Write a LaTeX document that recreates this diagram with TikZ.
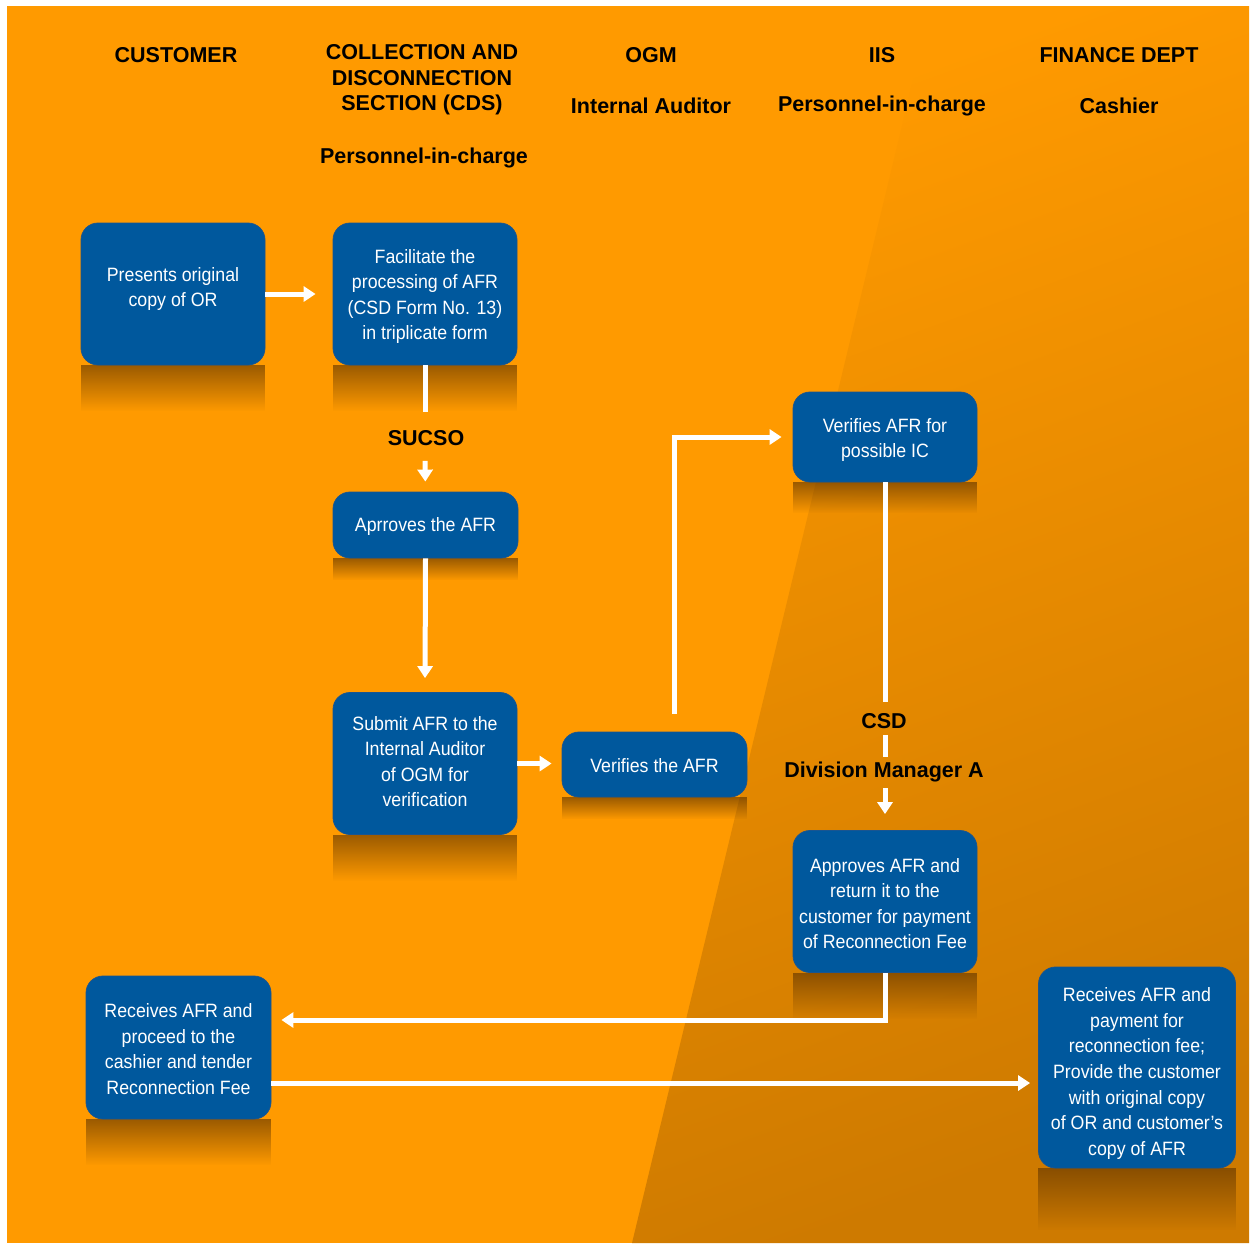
\documentclass[tikz,border=0pt]{standalone}
\usepackage{fontspec}
\setmainfont{Liberation Sans}
\newfontfamily\boxfont{Liberation Sans}[FakeStretch=0.92]
\usetikzlibrary{arrows.meta,fadings}
\definecolor{orangebg}{RGB}{255,154,0}
\definecolor{orangemd}{RGB}{249,150,0}
\definecolor{orangedk}{RGB}{206,122,0}
\definecolor{boxblue}{RGB}{0,88,157}
\definecolor{boxedge}{RGB}{25,85,145}
\definecolor{shadowc}{RGB}{95,52,0}
\tikzfading[name=fadedown, top color=transparent!0, bottom color=transparent!100]
\pgfdeclarelayer{bg}
\pgfsetlayers{bg,main}
\tikzset{
  stepbox/.style={rectangle, rounded corners=17pt, fill=boxblue, draw=boxedge,
    line width=0.8pt, inner sep=0pt},
  boxtext/.style={text=white, align=center, inner sep=0pt,
    font={\boxfont\fontsize{19.3}{25.6}\selectfont}},
  hdr/.style={inner sep=0pt, align=center, font={\bfseries\fontsize{21.5}{25.5}\selectfont}},
  flow/.style={draw=white, line width=5pt, -{Triangle[width=15pt,length=12pt]}},
  wline/.style={draw=white, line width=5pt},
  shadowfill/.style={fill=shadowc, opacity=0.62, path fading=fadedown}
}
\begin{document}
\begin{tikzpicture}[x=1pt,y=-1pt]
\useasboundingbox (0,0) rectangle (1253,1243);
% headers
\node[hdr] (hcust) at (176,55) {CUSTOMER};
\node[hdr] (hcds) at (422,80) {COLLECTION AND\\DISCONNECTION\\SECTION (CDS)};
\node[hdr] (hcdsp) at (424,158) {Personnel-in-charge};
\node[hdr] (hogm) at (651,55) {OGM};
\node[hdr] (hogmp) at (651,106) {Internal Auditor};
\node[hdr] (hiis) at (882,55) {IIS};
\node[hdr] (hiisp) at (882,106) {Personnel-in-charge};
\node[hdr] (hfin) at (1119,55) {FINANCE DEPT};
\node[hdr] (hfinp) at (1119,106) {Cashier};
% boxes
\node[stepbox, minimum width=184pt, minimum height=142pt] (b1) at (173,294) {};
\node[boxtext] (t1) at (173,289) {Presents original\\copy of OR};
\node[stepbox, minimum width=184pt, minimum height=142pt] (b2) at (425,294) {};
\node[boxtext] (t2) at (425,296.5) {Facilitate the\\processing of AFR\\(CSD Form No. 13)\\in triplicate form};
\node[stepbox, minimum width=185pt, minimum height=66pt] (b3) at (425.5,525) {};
\node[boxtext] (t3) at (425.5,526) {Aprroves the AFR};
\node[stepbox, minimum width=184pt, minimum height=142pt] (b4) at (425,763.5) {};
\node[boxtext] (t4) at (425,761.5) {Submit AFR to the\\Internal Auditor\\of OGM for\\verification};
\node[stepbox, minimum width=185pt, minimum height=65pt] (b5) at (654.5,764.5) {};
\node[boxtext] (t5) at (654.5,766) {Verifies the AFR};
\node[stepbox, minimum width=184pt, minimum height=90pt] (b6) at (885,437) {};
\node[boxtext] (t6) at (885,440) {Verifies AFR for\\possible IC};
\node[stepbox, minimum width=184pt, minimum height=142pt] (b7) at (885,901.5) {};
\node[boxtext] (t7) at (885,903.5) {Approves AFR and\\return it to the\\customer for payment\\of Reconnection Fee};
\node[stepbox, minimum width=185pt, minimum height=143pt] (b8) at (178.5,1047.5) {};
\node[boxtext] (t8) at (178.5,1049) {Receives AFR and\\proceed to the\\cashier and tender\\Reconnection Fee};
\node[stepbox, minimum width=197pt, minimum height=201pt] (b9) at (1137,1067.5) {};
\node[boxtext] (t9) at (1137,1073.5) {Receives AFR and\\payment for\\reconnection fee;\\Provide the customer\\with original copy\\of OR and customer’s\\copy of AFR};
% connector labels
\node[hdr] (lsucso) at (426,438) {SUCSO};
\node[hdr] (lcsd) at (884,721) {CSD};
\node[hdr] (ldm) at (884,772) {Division Manager A};
\coordinate (up5) at (674,714);
\coordinate (turn7) at (885,1020);
% background
\begin{pgfonlayer}{bg}
\fill[white] (0,0) rectangle (1253,1243);
\fill[orangebg] (7,6) rectangle (1249,1243);
\shade[top color=orangebg, middle color=orangemd, bottom color=orangedk, shading angle=20] (931,6) -- (1249,6) -- (1249,1243) -- (632,1243) -- cycle;
\fill[shadowfill] (b1.south west) rectangle ([yshift=-46pt]b1.south east);
\fill[shadowfill] (b2.south west) rectangle ([yshift=-46pt]b2.south east);
\fill[shadowfill] (b3.south west) rectangle ([yshift=-22pt]b3.south east);
\fill[shadowfill] (b4.south west) rectangle ([yshift=-46pt]b4.south east);
\fill[shadowfill] (b5.south west) rectangle ([yshift=-22pt]b5.south east);
\fill[shadowfill] (b6.south west) rectangle ([yshift=-31pt]b6.south east);
\fill[shadowfill] (b7.south west) rectangle ([yshift=-46pt]b7.south east);
\fill[shadowfill] (b8.south west) rectangle ([yshift=-46pt]b8.south east);
\fill[shadowfill] (b9.south west) rectangle ([yshift=-62pt]b9.south east);
\end{pgfonlayer}
% connectors
\draw[flow, shorten >=17pt] (b1.east) -- (b2.west);
\draw[wline] (b2.south) -- ([yshift=18pt]b2.south |- lsucso.north);
\draw[flow, shorten >=10pt] ([yshift=-15pt]b2.south |- lsucso.south) -- (b3.north);
\draw[flow, shorten >=14pt] (b3.south) -- (b4.north);
\draw[flow, shorten >=10pt] (b4.east) -- (b4.east -| b5.west);
\draw[flow, shorten >=11pt] (up5) |- (b6.west);
\draw[wline] (b6.south) -- ([yshift=11pt]b6.south |- lcsd.north);
\draw[wline] ([yshift=-6pt]b6.south |- lcsd.south) -- ([yshift=5pt]b6.south |- ldm.north);
\draw[flow, shorten >=16pt] ([yshift=-6pt]b6.south |- ldm.south) -- (b7.north);
\draw[flow, shorten >=10pt] (b7.south) -- (turn7) -- (turn7 -| b8.east);
\draw[flow, shorten >=8pt] ([yshift=-35.5pt]b8.east) -- ([yshift=-35.5pt]b8.east -| b9.west);
\end{tikzpicture}
\end{document}
